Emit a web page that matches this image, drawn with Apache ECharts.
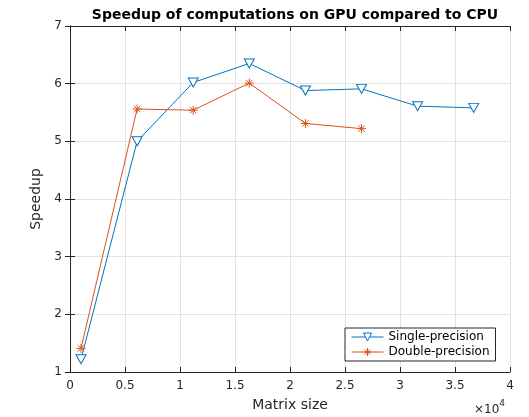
<!DOCTYPE html>
<html>
<head>
<meta charset="utf-8">
<script src="https://cdn.jsdelivr.net/npm/echarts@6/dist/echarts.min.js"></script>
<style>
  html, body { margin: 0; padding: 0; background: #fff; }
  #chart { width: 529px; height: 417px; }
</style>
</head>
<body>
<div id="chart"></div>
<script>
// matrix sizes and measured speedups
const matrixSize = [1000, 6100, 11200, 16300, 21400, 26500, 31600, 36700]
const singlePrecision = [1.22, 5.0, 6.02, 6.35, 5.88, 5.91, 5.61, 5.58]
const doublePrecision = [1.41, 5.56, 5.54, 6.01, 5.31, 5.22]

const blue = '#0072BD'
const red = '#D95319'
const axisColor = '#262626'
const font = 'DejaVu Sans'

const asterisk = 'path://M5 0L5 10M0 5L10 5M1.5 1.5L8.5 8.5M8.5 1.5L1.5 8.5'

const chart = echarts.init(document.getElementById('chart'), null, { renderer: 'canvas' })

const tickStyle = { show: true, inside: true, length: 5, lineStyle: { color: axisColor } }

const option = {
  animation: false,
  textStyle: { fontFamily: font },
  title: {
    text: 'Speedup of computations on GPU compared to CPU',
    left: 290,
    textAlign: 'center',
    top: 3,
    textStyle: { fontSize: 14, fontWeight: 'bold', color: '#000', fontFamily: font }
  },
  grid: { left: 70, right: 19, top: 26, bottom: 43 },
  legend: {
    left: 345,
    top: 328,
    orient: 'vertical',
    itemGap: 3,
    itemWidth: 32,
    itemHeight: 10,
    padding: [3, 6, 3, 6],
    borderColor: axisColor,
    borderWidth: 1,
    backgroundColor: '#fff',
    lineStyle: { width: 1 },
    itemStyle: { borderWidth: 1 },
    textStyle: { fontSize: 12, color: '#000', fontFamily: font },
    data: ['Single-precision', 'Double-precision']
  },
  xAxis: [
    {
      type: 'value',
      min: 0,
      max: 40000,
      interval: 5000,
      name: 'Matrix size',
      nameLocation: 'middle',
      nameGap: 26,
      nameTextStyle: { fontSize: 14, color: axisColor, fontFamily: font },
      axisLine: { show: true, lineStyle: { color: axisColor } },
      axisTick: tickStyle,
      axisLabel: {
        margin: 8,
        fontSize: 12,
        color: axisColor,
        formatter: v => String(v / 10000)
      },
      splitLine: { show: true, lineStyle: { color: '#e3e3e3' } }
    },
    {
      type: 'value',
      position: 'top',
      min: 0,
      max: 40000,
      interval: 5000,
      axisLine: { show: true, lineStyle: { color: axisColor } },
      axisTick: tickStyle,
      axisLabel: { show: false },
      splitLine: { show: false }
    }
  ],
  yAxis: [
    {
      type: 'value',
      min: 1,
      max: 7,
      interval: 1,
      name: 'Speedup',
      nameLocation: 'middle',
      nameGap: 20,
      nameTextStyle: { fontSize: 14, color: axisColor, fontFamily: font },
      axisLine: { show: true, lineStyle: { color: axisColor } },
      axisTick: tickStyle,
      axisLabel: { margin: 8, fontSize: 12, color: axisColor },
      splitLine: { show: true, lineStyle: { color: '#e3e3e3' } }
    },
    {
      type: 'value',
      position: 'right',
      min: 1,
      max: 7,
      interval: 1,
      axisLine: { show: true, lineStyle: { color: axisColor } },
      axisTick: tickStyle,
      axisLabel: { show: false },
      splitLine: { show: false }
    }
  ],
  graphic: [
    {
      type: 'text',
      left: 474,
      top: 399,
      style: {
        text: '{a|×10}{b|4}',
        rich: {
          a: { fontSize: 12, fill: axisColor, fontFamily: font, verticalAlign: 'bottom' },
          b: { fontSize: 9, fill: axisColor, fontFamily: font, verticalAlign: 'top', padding: [0, 0, 8, 0] }
        }
      }
    }
  ],
  series: [
    {
      name: 'Single-precision',
      type: 'line',
      data: matrixSize.map((x, i) => [x, singlePrecision[i]]),
      symbol: 'triangle',
      symbolRotate: 180,
      symbolSize: [10, 9],
      showAllSymbol: true,
      lineStyle: { color: blue, width: 1 },
      itemStyle: { color: '#fff', borderColor: blue, borderWidth: 1 }
    },
    {
      name: 'Double-precision',
      type: 'line',
      data: matrixSize.slice(0, doublePrecision.length).map((x, i) => [x, doublePrecision[i]]),
      symbol: asterisk,
      symbolSize: 9,
      showAllSymbol: true,
      lineStyle: { color: red, width: 1 },
      itemStyle: { color: red, borderColor: red, borderWidth: 1 }
    }
  ]
}

chart.setOption(option)
</script>
</body>
</html>
